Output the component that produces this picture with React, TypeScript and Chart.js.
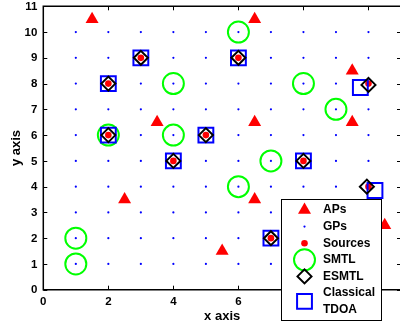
import React, { useEffect, useRef } from 'react';
import { Chart, registerables } from 'chart.js';
import { drawPoint } from 'chart.js/helpers';

Chart.register(...registerables);

// ---- data ----
const xTicks = [0, 2, 4, 6, 8, 10];
const yTicks = [0, 1, 2, 3, 4, 5, 6, 7, 8, 9, 10, 11];
const xLabel = 'x axis';
const yLabel = 'y axis';

const apX = [1.5, 3.5, 6.5, 9.5, 6.5, 9.5, 2.5, 6.5, 5.5, 10.5];
const apY = [10.5, 6.5, 10.5, 8.5, 6.5, 6.5, 3.5, 3.5, 1.5, 2.5];

const gpCols = [1, 2, 3, 4, 5, 6, 7, 8, 9, 10];
const gpRows = [1, 2, 3, 4, 5, 6, 7, 8, 9, 10];

const srcX = [2, 3, 2, 4, 5, 6, 8, 10, 10, 7];
const srcY = [8, 9, 6, 5, 6, 9, 5, 8, 4, 2];

const smtlX = [2, 4, 4, 6, 8, 9, 7, 6, 1, 1];
const smtlY = [6, 8, 6, 10, 8, 7, 5, 4, 2, 1];

const esmtlX = [2, 3, 2, 4, 5, 6, 8, 10, 9.95, 7];
const esmtlY = [8, 9, 6, 5, 6, 9, 5, 7.95, 4.0, 2];

const tdoaX = [2, 3, 2, 4, 5, 6, 8, 9.75, 10.2, 7];
const tdoaY = [8, 9, 6, 5, 6, 9, 5, 7.85, 3.85, 2];

const legendLabels = ['APs', 'GPs', 'Sources', 'SMTL', 'ESMTL', ['Classical', 'TDOA']];

const FONT = '"Liberation Sans", Arial, Helvetica, sans-serif';

const zip = (xs: number[], ys: number[]) => xs.map((x, i) => ({ x, y: ys[i] }));

const axesPlugin = {
  id: 'matlabAxes',
  beforeDatasetsDraw(chart: any) {
    const { ctx, chartArea: a, scales } = chart;
    const xs = scales.x;
    const ys = scales.y;
    ctx.save();
    ctx.strokeStyle = '#000';
    ctx.lineWidth = 1.5;
    ctx.beginPath();
    ctx.rect(a.left, a.top, a.right - a.left, a.bottom - a.top);
    ctx.stroke();
    const tl = 4;
    ctx.lineWidth = 1;
    ctx.beginPath();
    xs.ticks.forEach((t: any) => {
      const p = Math.round(xs.getPixelForValue(t.value)) + 0.5;
      ctx.moveTo(p, a.bottom);
      ctx.lineTo(p, a.bottom - tl);
      ctx.moveTo(p, a.top);
      ctx.lineTo(p, a.top + tl);
    });
    ys.ticks.forEach((t: any) => {
      const p = Math.round(ys.getPixelForValue(t.value)) + 0.5;
      ctx.moveTo(a.left, p);
      ctx.lineTo(a.left + tl, p);
      ctx.moveTo(a.right, p);
      ctx.lineTo(a.right - tl, p);
    });
    ctx.stroke();

    // tick labels
    ctx.fillStyle = '#000';
    ctx.font = 'bold 11.5px ' + FONT;
    ctx.textBaseline = 'middle';
    ctx.textAlign = 'center';
    xs.ticks.forEach((t: any) => {
      ctx.fillText(String(t.value), xs.getPixelForValue(t.value), a.bottom + 12);
    });
    ctx.textAlign = 'right';
    ys.ticks.forEach((t: any) => {
      ctx.fillText(String(t.value), a.left - 6, ys.getPixelForValue(t.value) + 0.5);
    });

    // axis titles
    ctx.font = 'bold 13px ' + FONT;
    ctx.textAlign = 'center';
    ctx.textBaseline = 'middle';
    ctx.fillText(xLabel, (a.left + a.right) / 2, 316);
    ctx.translate(16, (a.top + a.bottom) / 2);
    ctx.rotate(-Math.PI / 2);
    ctx.fillText(yLabel, 0, 0);
    ctx.restore();
  },
};

const legendPlugin = {
  id: 'boxLegend',
  afterDraw(chart: any, _args: any, opts: any) {
    const { ctx } = chart;
    const { left, top, width, height, markerX, textX, lineH, firstY } = opts;
    ctx.save();
    ctx.fillStyle = '#fff';
    ctx.fillRect(left, top, width, height);
    ctx.strokeStyle = '#000';
    ctx.lineWidth = 1;
    ctx.strokeRect(left + 0.5, top + 0.5, width, height);
    let y0 = firstY;
    ctx.font = 'bold 12px ' + FONT;
    ctx.textAlign = 'left';
    ctx.textBaseline = 'middle';
    chart.data.datasets.forEach((ds: any, i: number) => {
      const lab = legendLabels[i];
      const lines = Array.isArray(lab) ? lab : [lab];
      const cy = y0 + (lines.length * lineH) / 2;
      ctx.fillStyle = ds.backgroundColor;
      ctx.strokeStyle = ds.borderColor;
      ctx.lineWidth = ds.borderWidth;
      drawPoint(
        ctx,
        { pointStyle: ds.pointStyle, radius: ds.pointRadius, borderWidth: ds.borderWidth, rotation: 0 },
        markerX,
        cy
      );
      ctx.fillStyle = '#000';
      lines.forEach((s: string, k: number) => {
        ctx.fillText(s, textX, y0 + (k + 0.5) * lineH);
      });
      y0 += lines.length * lineH;
    });
    ctx.restore();
  },
};

export default function App() {
  const ref = useRef<HTMLCanvasElement | null>(null);
  useEffect(() => {
    if (!ref.current) return;
    const gp: { x: number; y: number }[] = [];
    gpRows.forEach((y) => gpCols.forEach((x) => gp.push({ x, y })));
    const chart = new Chart(ref.current, {
      type: 'scatter',
      data: {
        datasets: [
          {
            label: 'APs',
            data: zip(apX, apY),
            pointStyle: 'triangle',
            pointRadius: 7.5,
            backgroundColor: '#ff0000',
            borderColor: '#ff0000',
            borderWidth: 0,
            order: 1,
          },
          {
            label: 'GPs',
            data: gp,
            pointStyle: 'circle',
            pointRadius: 1.1,
            backgroundColor: '#0000ff',
            borderColor: '#0000ff',
            borderWidth: 0,
            order: 6,
          },
          {
            label: 'Sources',
            data: zip(srcX, srcY),
            pointStyle: 'circle',
            pointRadius: 3.3,
            backgroundColor: '#ff0000',
            borderColor: '#ff0000',
            borderWidth: 0,
            order: 4,
          },
          {
            label: 'SMTL',
            data: zip(smtlX, smtlY),
            pointStyle: 'circle',
            pointRadius: 10.5,
            backgroundColor: 'rgba(0,0,0,0)',
            borderColor: '#00ff00',
            borderWidth: 2,
            order: 5,
          },
          {
            label: 'ESMTL',
            data: zip(esmtlX, esmtlY),
            pointStyle: 'rectRot',
            pointRadius: 7,
            backgroundColor: 'rgba(0,0,0,0)',
            borderColor: '#000000',
            borderWidth: 2,
            order: 2,
          },
          {
            label: 'Classical TDOA',
            data: zip(tdoaX, tdoaY),
            pointStyle: 'rect',
            pointRadius: 10.5,
            backgroundColor: 'rgba(0,0,0,0)',
            borderColor: '#0000ff',
            borderWidth: 2,
            order: 3,
          },
        ],
      },
      options: {
        animation: false,
        responsive: false,
        events: [],
        layout: { autoPadding: false, padding: { top: 6.3, left: 0, right: 0, bottom: 0 } },
        plugins: {
          legend: { display: false },
          tooltip: { enabled: false },
          boxLegend: {
            left: 281,
            top: 199,
            width: 100,
            height: 121,
            markerX: 304.5,
            textX: 323,
            lineH: 16.6,
            firstY: 201.7,
          },
        } as any,
        scales: {
          x: {
            type: 'linear',
            min: 0,
            max: 11,
            grid: { display: false, drawTicks: false },
            border: { display: false },
            ticks: { display: false },
            afterBuildTicks: (s: any) => {
              s.ticks = xTicks.map((v) => ({ value: v }));
            },
            afterFit: (s: any) => {
              s.height = 36.3;
            },
          },
          y: {
            type: 'linear',
            min: 0,
            max: 11,
            grid: { display: false, drawTicks: false },
            border: { display: false },
            ticks: { display: false },
            afterBuildTicks: (s: any) => {
              s.ticks = yTicks.map((v) => ({ value: v }));
            },
            afterFit: (s: any) => {
              s.width = 43.3;
            },
          },
        },
      },
      plugins: [axesPlugin, legendPlugin],
    });
    return () => chart.destroy();
  }, []);
  return (
    <div
      style={{
        position: 'absolute',
        left: 0,
        top: 0,
        width: 400,
        height: 326,
        overflow: 'hidden',
        background: '#fff',
      }}
    >
      <canvas ref={ref} width={401} height={326} style={{ width: 401, height: 326, display: 'block' }} />
    </div>
  );
}
